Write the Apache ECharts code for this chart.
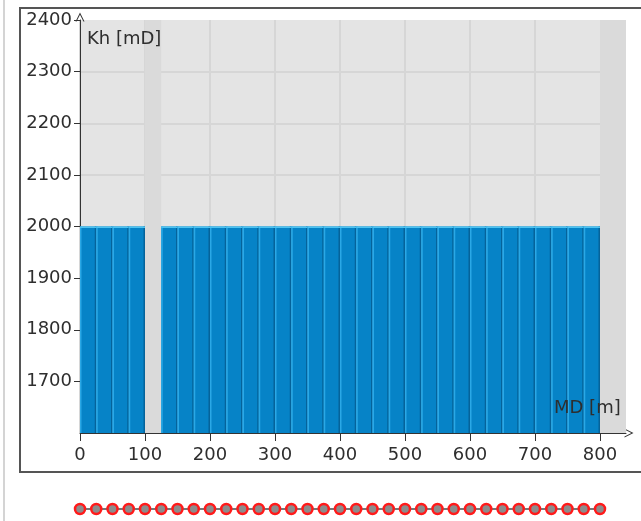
<!DOCTYPE html>
<html>
<head>
<meta charset="utf-8">
<style>
html,body{margin:0;padding:0;background:#fff;}
#chart{width:641px;height:521px;}
</style>
<script src="https://cdn.jsdelivr.net/npm/echarts@6/dist/echarts.min.js"></script>
</head>
<body>
<div id="chart"></div>
<script>
// Interval tops (MD, m) and bottoms with permeability-thickness values
var segStart = [0,25,50,75,125,150,175,200,225,250,275,300,325,350,375,400,425,450,475,500,525,550,575,600,625,650,675,700,725,750,775];
var segEnd   = [25,50,75,100,150,175,200,225,250,275,300,325,350,375,400,425,450,475,500,525,550,575,600,625,650,675,700,725,750,775,800];
var khValues = [2000,2000,2000,2000,2000,2000,2000,2000,2000,2000,2000,2000,2000,2000,2000,2000,2000,2000,2000,2000,2000,2000,2000,2000,2000,2000,2000,2000,2000,2000,2000];
// Stations shown as markers under the plot
var stations = [0,25,50,75,100,125,150,175,200,225,250,275,300,325,350,375,400,425,450,475,500,525,550,575,600,625,650,675,700,725,750,775,800];
// Ranges without data (shaded darker)
var emptyRanges = [[100,125],[800,840]];
var xTicks = [0,100,200,300,400,500,600,700,800];
var yTicks = [1700,1800,1900,2000,2100,2200,2300,2400];

var chart = echarts.init(document.getElementById('chart'));
var FONT = 'DejaVu Sans';
var TXT = '#2e2e2e';
var arrow = 'path://M0,10 L5,0 L10,10 L8.8,10 L5,2.4 L1.2,10 Z';

var barData = segStart.map(function(s,i){ return [s, segEnd[i], khValues[i]]; });
var stationData = stations.map(function(s){ return [s, 0]; });

var option = {
  animation:false,
  backgroundColor:'#ffffff',
  grid:[
    {left:80, top:20, width:546, height:413, show:true, backgroundColor:'#e4e4e4', borderWidth:0},
    {left:80, top:504, width:546, height:10, show:false}
  ],
  xAxis:[
    {type:'value', gridIndex:0, min:0, max:840, interval:100,
     axisLine:{show:true, onZero:false, lineStyle:{color:'#333', width:1}, symbol:['none', arrow], symbolSize:[9,12], symbolOffset:[0,3]},
     axisTick:{show:true, length:8, lineStyle:{color:'#333'}, customValues:xTicks},
     axisLabel:{show:true, customValues:xTicks, margin:13, fontFamily:FONT, fontSize:18, color:TXT,
       formatter:function(v){ return String(v); }},
     splitLine:{show:true, showMaxLine:false, lineStyle:{color:'#d6d6d6', width:2}}
    },
    {type:'value', gridIndex:1, min:0, max:840, show:false}
  ],
  yAxis:[
    {type:'value', gridIndex:0, min:1600, max:2400, interval:100,
     axisLine:{show:true, onZero:false, lineStyle:{color:'#333', width:1}, symbol:['none', arrow], symbolSize:[9,12], symbolOffset:[0,3]},
     axisTick:{show:true, length:6, lineStyle:{color:'#333'}, customValues:yTicks},
     axisLabel:{show:true, customValues:yTicks, margin:8, fontFamily:FONT, fontSize:18, color:TXT,
       formatter:function(v){ return String(v); }},
     splitLine:{show:true, showMinLine:false, showMaxLine:false, lineStyle:{color:'#d6d6d6', width:2}}
    },
    {type:'value', gridIndex:1, min:-1, max:1, show:false}
  ],
  series:[
    {
      type:'custom', xAxisIndex:0, yAxisIndex:0, z:3,
      data:barData,
      renderItem:function(params, api){
        var p0 = api.coord([api.value(0), api.value(2)]);
        var p1 = api.coord([api.value(1), 1600]);
        var x0 = p0[0], x1 = p1[0], yt = p0[1], yb = p1[1];
        return {type:'group', children:[
          {type:'rect', shape:{x:x0, y:yt, width:x1-x0, height:yb-yt}, style:{fill:'#0683c7'}},
          {type:'rect', shape:{x:x0, y:yt, width:1.5, height:yb-yt}, style:{fill:'#2aa8e6'}},
          {type:'rect', shape:{x:x1-1.5, y:yt, width:1.5, height:yb-yt}, style:{fill:'#05639a'}},
          {type:'rect', shape:{x:x0, y:yt, width:x1-x0, height:1.5}, style:{fill:'#4cc4f2'}}
        ]};
      },
      markArea:{
        silent:true,
        itemStyle:{color:'#dadada'},
        data:emptyRanges.map(function(r){ return [{xAxis:r[0], yAxis:1600},{xAxis:r[1], yAxis:2400}]; })
      }
    },
    {
      type:'line', xAxisIndex:1, yAxisIndex:1, z:3,
      data:stationData,
      symbol:'circle', symbolSize:10,
      lineStyle:{color:'#777', width:2},
      itemStyle:{color:'#8c8c8c', borderColor:'#ff1a1a', borderWidth:2.5}
    }
  ],
  graphic:[
    {type:'rect', z:-10, shape:{x:20, y:8, width:640, height:464}, style:{fill:'none', stroke:'#555', lineWidth:2}},
    {type:'rect', z:-10, shape:{x:3, y:0, width:2, height:521}, style:{fill:'#d4d4d4'}},
    {type:'text', z:10, left:87, top:30, style:{text:'Kh [mD]', font:'18px "DejaVu Sans"', fill:TXT}},
    {type:'text', z:10, left:554, top:399, style:{text:'MD [m]', font:'18px "DejaVu Sans"', fill:TXT}}
  ]
};
chart.setOption(option);
</script>
</body>
</html>
